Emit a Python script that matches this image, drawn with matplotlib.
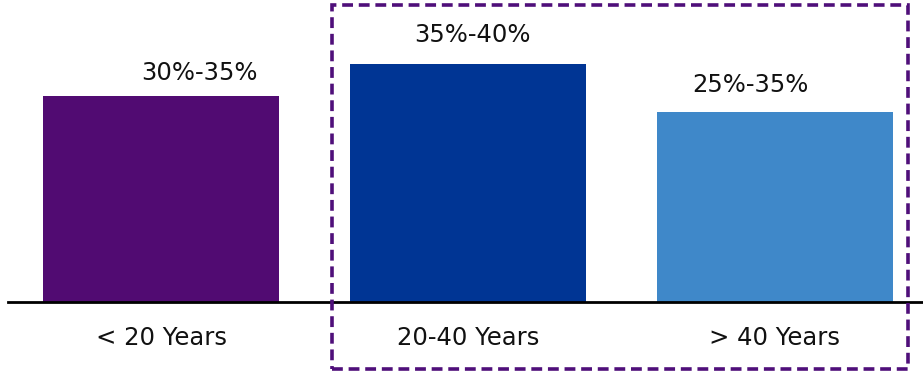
import matplotlib
matplotlib.use('Agg')
import matplotlib.pyplot as plt
from matplotlib.patches import Rectangle

# Data
categories = ['< 20 Years', '20-40 Years', '> 40 Years']
values = [32.5, 37.5, 30.0]           # midpoints of the ranges
range_labels = ['30%-35%', '35%-40%', '25%-35%']
colors = ['#510B72', '#003594', '#3F88C9']

plt.rcParams['font.family'] = ['DejaVu Sans']

fig = plt.figure(figsize=(9.23, 3.75), dpi=100)
W, H = 923, 375
ax = fig.add_axes([8 / W, 73 / H, 1 - 8 / W, 302 / H])

x = range(len(categories))
ax.bar(x, values, width=0.77, color=colors)
ax.set_xlim(-0.5, 2.483)
ax.set_ylim(0, 47.6)

# Value range labels (slightly shifted like the original)
label_dx = [0.124, 0.013, -0.078]
label_dy = [3.6, 4.6, 4.2]
for i, v in enumerate(values):
    ax.text(i + label_dx[i], v + label_dy[i], range_labels[i],
            ha='center', va='center', fontsize=17.5, color='#111111')

# Category labels under the axis
for i, c in enumerate(categories):
    ax.text(i, -5.7, c, ha='center', va='center', fontsize=17.5,
            color='#111111', clip_on=False)

for s in ['top', 'right', 'left']:
    ax.spines[s].set_visible(False)
ax.spines['bottom'].set_linewidth(2)
ax.spines['bottom'].set_color('black')
ax.set_xticks([])
ax.set_yticks([])

# Dashed highlight box around the last two groups
box = Rectangle((332 / W, (H - 369) / H), (908 - 332) / W, (369 - 5) / H,
                transform=fig.transFigure, fill=False, edgecolor='#4F0F7A',
                linewidth=2.6, linestyle=(0, (3.0, 1.6)), clip_on=False)
fig.patches.append(box)

fig.savefig('out.png', dpi=100)
